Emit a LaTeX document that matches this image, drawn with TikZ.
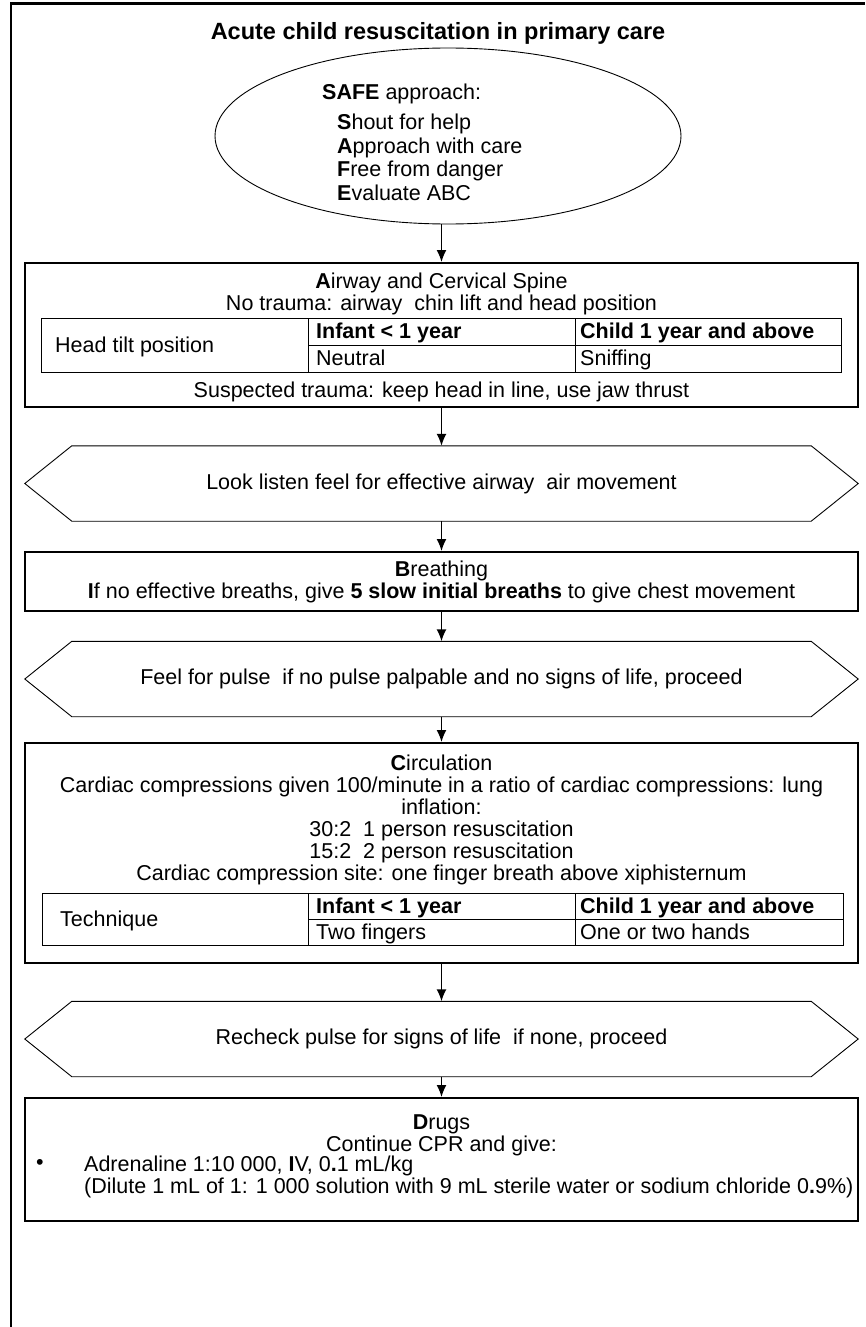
\documentclass[tikz,border=0pt]{standalone}
\usepackage{fontspec}
\setmainfont{Liberation Sans}
\usetikzlibrary{arrows.meta,shapes.geometric}

\newcommand{\bodyfont}{\fontsize{21.5}{22}\selectfont}
\newcommand{\titlefont}{\fontsize{23.5}{26}\selectfont\bfseries}
% hexagon outline round a plain node
\newcommand{\hexfr}[1]{\draw[tabline] (#1.west) -- ([xshift=47pt]#1.north west) -- ([xshift=-47pt]#1.north east)
  -- (#1.east) -- ([xshift=-47pt]#1.south east) -- ([xshift=47pt]#1.south west) -- cycle;}

\tikzset{
  box/.style={draw, line width=2.4pt, minimum width=833pt, inner sep=0pt},
  txt/.style={font=\bodyfont, inner sep=0pt, align=center},
  cell/.style={txt, anchor=west, text height=15.5pt, text depth=4.5pt},
  hexnode/.style={font=\bodyfont, inner sep=0pt, minimum width=833pt, minimum height=75pt},
  tabline/.style={line width=0.9pt},
  flow/.style={-{Latex[length=12pt,width=10pt]}, line width=1.5pt},
}

\begin{document}
\begin{tikzpicture}[x=1pt,y=-1pt]
  \useasboundingbox (0,0) rectangle (865,1327);
  \draw[line width=2.4pt] (11,1327) -- (11,3.5) -- (865,3.5);

  \node[font=\titlefont, inner sep=0pt] (title) at (438,33) {Acute child resuscitation in primary care};

  % SAFE
  \node[draw, ellipse, tabline, minimum width=466pt, minimum height=176pt, inner sep=0pt] (safe) at (448,136) {};
  \node[cell] (safehead) at (322,94) {\textbf{SAFE} approach:};
  \node[txt, align=left, anchor=north west, font=\fontsize{21.5}{23.5}\selectfont] (safelist) at (337,114)
    {\textbf{S}hout for help\\\textbf{A}pproach with care\\\textbf{F}ree from danger\\\textbf{E}valuate ABC};

  % A
  \node[box, minimum height=144pt, anchor=north] (airway) at (441.5,262) {};
  \node[txt, anchor=north] (airtxt) at (441.5,273)
    {\textbf{A}irway and Cervical Spine\\No trauma: airway\ \ chin lift and head position};
  \draw[tabline] (41,318) rectangle (841,372);
  \draw[tabline] (308,318) -- (308,372) (575,318) -- (575,372) (308,345) -- (841,345);
  \node[cell] (headtilt) at (55,347) {Head tilt position};
  \node[cell] (infA) at (316,333) {\textbf{Infant < 1 year}};
  \node[cell] (chA) at (580,333) {\textbf{Child 1 year and above}};
  \node[cell] (neutral) at (316,360) {Neutral};
  \node[cell] (sniff) at (580,360) {Sniffing};
  \node[txt, anchor=north] (trauma) at (441.5,382) {Suspected trauma: keep head in line, use jaw thrust};

  \node[hexnode] (look) at (441.5,483.5) {Look listen feel for effective airway\ \ air movement};
  \hexfr{look}

  % B
  \node[box, txt, minimum height=59pt, anchor=north] (breath) at (441.5,551)
    {\textbf{B}reathing\\\textbf{I}f no effective breaths, give \textbf{5 slow initial breaths} to give chest movement};

  \node[hexnode] (pulse) at (441.5,679) {Feel for pulse\ \ if no pulse palpable and no signs of life, proceed};
  \hexfr{pulse}

  % C
  \node[box, minimum height=220pt, anchor=north] (circ) at (441.5,742) {};
  \node[txt, anchor=north] (circtxt) at (441.5,755)
    {\textbf{C}irculation\\Cardiac compressions given 100/minute in a ratio of cardiac compressions: lung\\inflation:\\
     30:2\ \ 1 person resuscitation\\15:2\ \ 2 person resuscitation\\Cardiac compression site: one finger breath above xiphisternum};
  \draw[tabline] (42,893) rectangle (843,945);
  \draw[tabline] (308,893) -- (308,945) (575,893) -- (575,945) (308,919) -- (843,919);
  \node[cell] (tech) at (60,921) {Technique};
  \node[cell] (infC) at (316,908) {\textbf{Infant < 1 year}};
  \node[cell] (chC) at (580,908) {\textbf{Child 1 year and above}};
  \node[cell] (fing) at (316,934) {Two fingers};
  \node[cell] (hands) at (580,934) {One or two hands};

  \node[hexnode] (recheck) at (441.5,1039) {Recheck pulse for signs of life\ \ if none, proceed};
  \hexfr{recheck}

  % D
  \node[box, minimum height=123pt, anchor=north] (drugs) at (441.5,1097) {};
  \node[txt, anchor=north] (drugtxt) at (441.5,1114) {\textbf{D}rugs\\Continue CPR and give:};
  \node[txt, anchor=west] (bul) at (36,1164) {•};
  \node[txt, align=left, anchor=north west] (adren) at (84,1156)
    {Adrenaline 1:10 000, \textbf{I}V, 0\textbf{.}1 mL/kg\\(Dilute 1 mL of 1: 1 000 solution with 9 mL sterile water or sodium chloride 0\textbf{.}9\%)};

  \draw[flow] (airway.north |- safe.south) -- (airway.north);
  \draw[flow] (airway.south) -- (look.north);
  \draw[flow] (look.south) -- (breath.north);
  \draw[flow] (breath.south) -- (pulse.north);
  \draw[flow] (pulse.south) -- (circ.north);
  \draw[flow] (circ.south) -- (recheck.north);
  \draw[flow] (recheck.south) -- (drugs.north);
\end{tikzpicture}
\end{document}
